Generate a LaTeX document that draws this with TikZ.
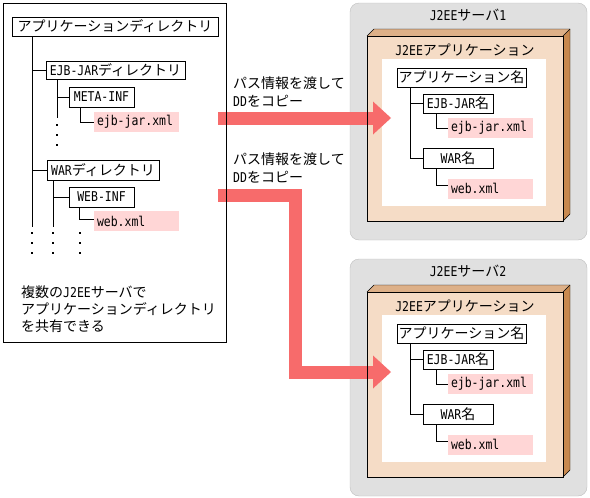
\documentclass[tikz,border=0pt]{standalone}
\usepackage{fontspec}
\setmainfont{Noto Sans CJK JP}
\newfontfamily\monofam[FakeStretch=0.85]{DejaVu Sans Mono}
\newcommand\mtxt[1]{{\monofam\fontsize{13.5}{16}\selectfont #1}}
\definecolor{arrowred}{HTML}{F76B6B}
\definecolor{pinkfill}{HTML}{FFD6D6}
\definecolor{greyfill}{HTML}{E0E0E0}
\definecolor{greyline}{HTML}{BEBEBE}
\definecolor{tanfill}{HTML}{F5DCC6}
\definecolor{tantop}{HTML}{DDB088}
\definecolor{tanside}{HTML}{C8894F}
\pgfdeclarelayer{bg}
\pgfdeclarelayer{arr}
\pgfsetlayers{bg,arr,main}
\begin{document}
\begin{tikzpicture}[x=1pt,y=-1pt,line width=1pt,
  font=\fontsize{14}{17}\selectfont,
  box/.style={draw=black, line width=1pt, fill=white, inner xsep=1.5pt, inner ysep=0pt, anchor=center},
  pinkbox/.style={fill=pinkfill, inner xsep=3pt, inner ysep=0pt, text width=79pt, align=left, minimum height=20pt, anchor=center},
  band/.style={draw=arrowred, line width=13pt, line join=miter, line cap=butt},
  plain/.style={inner sep=0pt}]
\useasboundingbox (0,0) rectangle (590,498);

% ---------- left panel ----------
\begin{pgfonlayer}{bg}
\node[fill=white, minimum width=223pt, minimum height=339pt, inner sep=0pt] (panel) at (114.5,172.5) {};
\end{pgfonlayer}
\draw (panel.north west) rectangle (panel.south east);

\node[box, minimum width=206pt, minimum height=19pt] (root) at (115,26.5) {アプリケーションディレクトリ};
\node[box, minimum width=139pt, minimum height=18pt] (ejbdir) at (115.5,70) {\mtxt{EJB-JAR}ディレクトリ};
\node[box, minimum width=65pt, minimum height=20pt] (meta) at (101.5,97) {\mtxt{META-INF}};
\node[pinkbox] (ejbxml) at (136.5,122) {\mtxt{ejb-jar.xml}};
\node[box, minimum width=112pt, minimum height=20pt] (wardir) at (103,170) {\mtxt{WAR}ディレクトリ};
\node[box, minimum width=65pt, minimum height=20pt] (webinf) at (101.5,197) {\mtxt{WEB-INF}};
\node[pinkbox] (webxml) at (136.5,221) {\mtxt{web.xml}};

\coordinate (t1) at (32,227);
\coordinate (t2) at (57,118);
\coordinate (t3) at (53,227);
\draw (root.south -| t1) -- (t1);
\draw (ejbdir.west -| t1) -- (ejbdir.west);
\draw (wardir.west -| t1) -- (wardir.west);
\draw (ejbdir.south -| t2) -- (t2);
\draw (meta.west -| t2) -- (meta.west);
\draw ([xshift=12pt]meta.south west) |- (ejbxml.west);
\draw (wardir.south -| t3) -- (t3);
\draw (webinf.west -| t3) -- (webinf.west);
\draw ([xshift=11pt]webinf.south west) |- ([yshift=2pt]webxml.west);

\foreach \x/\y in {57/125,57/135,57/145,32/233,32/243,32/253,53/233,53/243,53/253,80/233,80/243,80/253}
  \fill (\x-1,\y-1) rectangle (\x+1,\y+1);

\node[anchor=west, align=left, inner sep=0pt] (note) at (21,309) {複数の\mtxt{J2EE}サーバで\\アプリケーションディレクトリ\\を共有できる};

% ---------- labels ----------
\node[anchor=west, align=left, inner sep=0pt, font=\fontsize{14}{18}\selectfont] (lab1) at (233,92) {パス情報を渡して\\\mtxt{DD}をコピー};
\node[anchor=west, align=left, inner sep=0pt, font=\fontsize{14}{18}\selectfont] (lab2) at (233,167.5) {パス情報を渡して\\\mtxt{DD}をコピー};

% ---------- servers ----------
\foreach \i/\d in {1/0,2/256}{
  \begin{pgfonlayer}{bg}
    \filldraw[fill=greyfill, draw=greyline, rounded corners=9pt] (350,3+\d) rectangle (587,240+\d);
    \fill[tanfill] (367,36+\d) rectangle (563,221+\d);
    \fill[tantop] (367,36+\d) -- (374,29+\d) -- (570,29+\d) -- (563,36+\d) -- cycle;
    \fill[tanside] (563,36+\d) -- (570,29+\d) -- (570,214+\d) -- (563,221+\d) -- cycle;
    \fill[white] (382,59+\d) rectangle (546,206+\d);
  \end{pgfonlayer}
  \draw (367,36+\d) rectangle (563,221+\d);
  \draw[line join=bevel] (367,36+\d) -- (374,29+\d) -- (570,29+\d) -- (570,214+\d) -- (563,221+\d);
  \draw (563,36+\d) -- (570,29+\d);
  \node[plain] (st\i) at (468,15+\d) {\mtxt{J2EE}サーバ\mtxt{\i}};
  \node[plain] (al\i) at (465,50+\d) {\mtxt{J2EE}アプリケーション};
  \node[box, minimum width=129pt, minimum height=19pt] (an\i) at (461.5,77.5+\d) {アプリケーション名};
  \node[box, minimum width=70pt, minimum height=19pt] (ej\i) at (458,103.5+\d) {\mtxt{EJB-JAR}名};
  \node[pinkbox] (ex\i) at (490.5,128+\d) {\mtxt{ejb-jar.xml}};
  \node[box, minimum width=70pt, minimum height=20pt] (wa\i) at (458,158+\d) {\mtxt{WAR}名};
  \node[pinkbox] (wx\i) at (490.5,188.5+\d) {\mtxt{web.xml}};
  \draw ([xshift=14pt]an\i.south west) |- (ej\i.west);
  \draw ([xshift=14pt]an\i.south west) |- (wa\i.west);
  \draw ([xshift=14pt]ej\i.south west) |- (ex\i.west);
  \draw ([xshift=14pt]wa\i.south west) |- ([yshift=3pt]wx\i.west);
}

% ---------- arrows ----------
\begin{pgfonlayer}{arr}
  \coordinate (a1s) at (218,118);
  \coordinate (a1e) at (373,118);
  \draw[band] (a1s) -- (a1e);
  \fill[arrowred] (373,101.5) -- (391,118) -- (373,134.5) -- cycle;
  \coordinate (a2s) at (218,195.5);
  \coordinate (a2m) at (295.5,195.5);
  \coordinate (a2n) at (295.5,372);
  \coordinate (a2e) at (373,372);
  \draw[band] (a2s) -- (a2m) -- (a2n) -- (a2e);
  \fill[arrowred] (373,355.5) -- (391,372) -- (373,388.5) -- cycle;
\end{pgfonlayer}
\end{tikzpicture}
\end{document}
